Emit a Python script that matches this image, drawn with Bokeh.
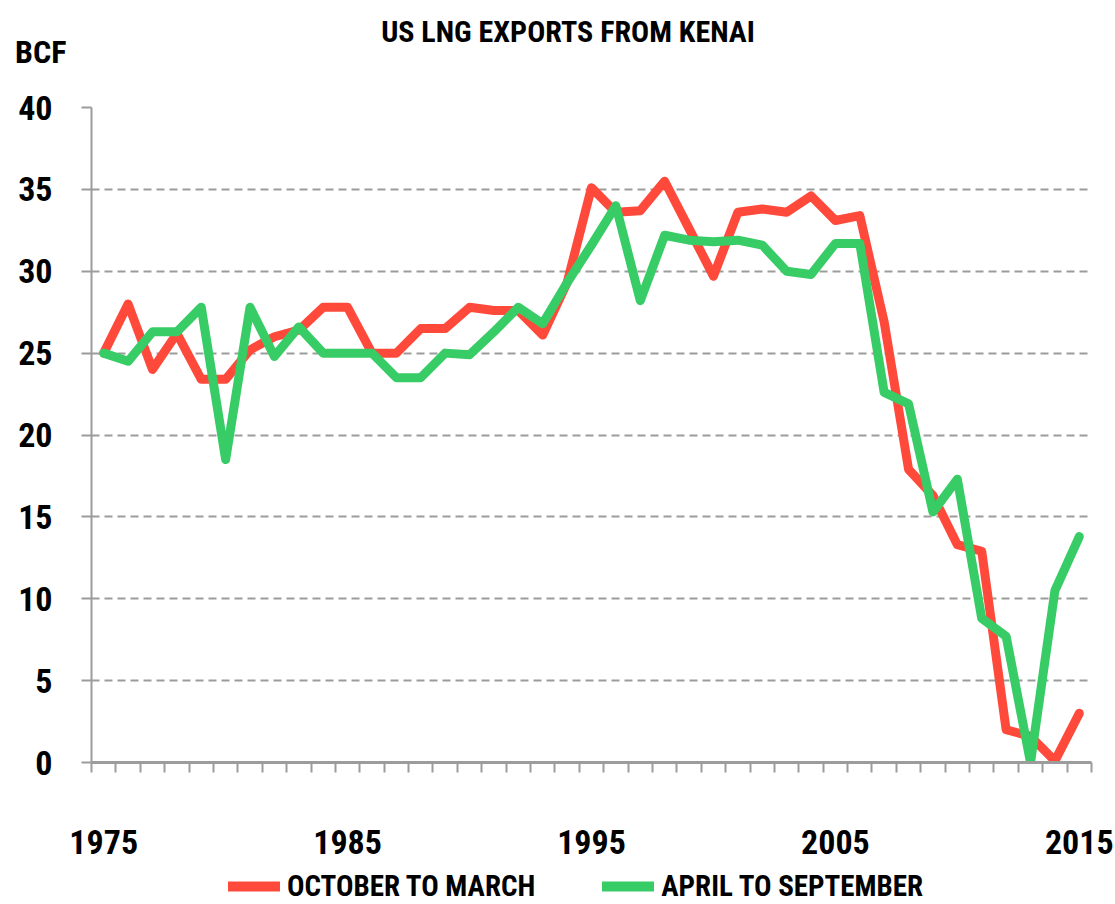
from bokeh.plotting import figure
from bokeh.models import (Range1d, FixedTicker, Legend, LegendItem, Div,
                          ColumnDataSource)
from bokeh.layouts import column
from bokeh.embed import file_html
from bokeh.resources import INLINE

years = [1975, 1976, 1977, 1978, 1979, 1980, 1981, 1982, 1983, 1984,
         1985, 1986, 1987, 1988, 1989, 1990, 1991, 1992, 1993, 1994,
         1995, 1996, 1997, 1998, 1999, 2000, 2001, 2002, 2003, 2004,
         2005, 2006, 2007, 2008, 2009, 2010, 2011, 2012, 2013, 2014, 2015]

oct_to_mar = [25.0, 28.0, 24.0, 26.2, 23.4, 23.4, 25.2, 26.0, 26.4, 27.8,
              27.8, 25.0, 25.0, 26.5, 26.5, 27.8, 27.6, 27.6, 26.1, 29.3,
              35.1, 33.6, 33.7, 35.5, 32.6, 29.7, 33.6, 33.8, 33.6, 34.6,
              33.1, 33.4, 26.9, 17.9, 16.3, 13.3, 12.9, 2.0, 1.6, 0.1, 3.0]

apr_to_sep = [25.0, 24.5, 26.3, 26.3, 27.8, 18.5, 27.8, 24.8, 26.6, 25.0,
              25.0, 25.0, 23.5, 23.5, 25.0, 24.9, 26.3, 27.8, 26.8, 29.3,
              31.6, 34.0, 28.2, 32.2, 31.9, 31.8, 31.9, 31.6, 30.0, 29.8,
              31.7, 31.7, 22.6, 21.9, 15.3, 17.3, 8.8, 7.7, 0.0, 10.5, 13.8]

x_labels = [1975, 1985, 1995, 2005, 2015]
y_ticks = [0, 5, 10, 15, 20, 25, 30, 35, 40]
series_names = ["OCTOBER TO MARCH", "APRIL TO SEPTEMBER"]
title_text = "US LNG EXPORTS FROM KENAI"
unit_text = "BCF"

RED = "#ff4a3b"
GREEN = "#38cc66"
GRAY = "#9c9c9c"
FONT = "Roboto Condensed"

header = Div(
    text=(
        '<div style="position:relative;width:1115px;height:80px;">'
        f'<span style="position:absolute;left:15px;top:36px;line-height:1;'
        f'font-weight:bold;font-size:32px;font-family:\'{FONT}\';'
        f'color:black;white-space:nowrap;">{unit_text}</span>'
        f'<span style="position:absolute;left:268px;width:600px;top:17px;'
        f'line-height:1;text-align:center;font-weight:bold;font-size:30px;'
        f'font-family:\'{FONT}\';color:black;white-space:nowrap;">'
        f'{title_text}</span>'
        '</div>'
    ),
    width=1115, height=80, margin=(0, 0, 0, 0))

p = figure(frame_width=1000, frame_height=655,
           x_range=Range1d(years[0] - 0.5, years[-1] + 0.5),
           y_range=Range1d(0, 40),
           output_backend="svg", toolbar_location=None,
           min_border_left=91, min_border_right=24,
           min_border_top=27, min_border_bottom=107, margin=(0, 0, 0, 0))
p.outline_line_color = None
p.background_fill_color = "white"
p.border_fill_color = "white"

src = ColumnDataSource(dict(year=years, a=oct_to_mar, b=apr_to_sep))
r1 = p.line("year", "a", source=src, line_color=RED, line_width=9,
            line_join="round", line_cap="round")
r2 = p.line("year", "b", source=src, line_color=GREEN, line_width=9,
            line_join="round", line_cap="round")

# grid
p.xgrid.grid_line_color = None
p.ygrid.grid_line_color = GRAY
p.ygrid.grid_line_width = 2
p.ygrid.grid_line_dash = "8 5"
p.ygrid.ticker = FixedTicker(ticks=y_ticks)

# y axis
ya = p.yaxis[0]
ya.ticker = FixedTicker(ticks=y_ticks)
ya.axis_line_color = GRAY
ya.axis_line_width = 2
ya.major_tick_line_color = GRAY
ya.major_tick_line_width = 2
ya.major_tick_out = 10
ya.major_tick_in = 0
ya.minor_tick_line_color = None
ya.major_label_standoff = 29
ya.major_label_text_font = FONT
ya.major_label_text_font_style = "bold"
ya.major_label_text_font_size = "34px"
ya.major_label_text_color = "black"

# x axis
minor = [years[0] - 0.5 + i for i in range(len(years) + 1)]
xa = p.xaxis[0]
xa.ticker = FixedTicker(ticks=x_labels, minor_ticks=minor)
xa.axis_line_color = GRAY
xa.axis_line_width = 3
xa.major_tick_line_color = None
xa.major_tick_out = 10
xa.major_tick_in = 0
xa.minor_tick_line_color = GRAY
xa.minor_tick_line_width = 2
xa.minor_tick_out = 10
xa.minor_tick_in = 0
xa.major_label_standoff = 57
xa.major_label_text_font = FONT
xa.major_label_text_font_style = "bold"
xa.major_label_text_font_size = "34px"
xa.major_label_text_color = "black"

# legend strip below the chart (same series, drawn off-range so only
# the legend samples show)
lg = figure(width=1115, height=35, x_range=Range1d(0, 1),
            y_range=Range1d(0, 1), output_backend="svg",
            toolbar_location=None, x_axis_location=None,
            y_axis_location=None, min_border_left=0, min_border_right=0,
            min_border_top=0, min_border_bottom=0, margin=(0, 0, 0, 0))
lg.outline_line_color = None
lg.xgrid.visible = False
lg.ygrid.visible = False
l1 = lg.line("year", "a", source=src, line_color=RED, line_width=10,
             line_cap="round")
l2 = lg.line("year", "b", source=src, line_color=GREEN, line_width=10,
             line_cap="round")
legend = Legend(items=[LegendItem(label=series_names[0], renderers=[l1]),
                       LegendItem(label=series_names[1], renderers=[l2])],
                orientation="horizontal", location=(137, 1),
                glyph_width=52, glyph_height=30, label_standoff=7,
                spacing=67, padding=0, margin=0,
                label_text_font=FONT, label_text_font_style="bold",
                label_text_font_size="29px", label_text_color="black",
                background_fill_alpha=0, border_line_color=None)
lg.add_layout(legend, "center")

layout = column(header, p, lg, spacing=0, margin=(0, 0, 0, 0))
open("out.html", "w").write(file_html(layout, INLINE))
